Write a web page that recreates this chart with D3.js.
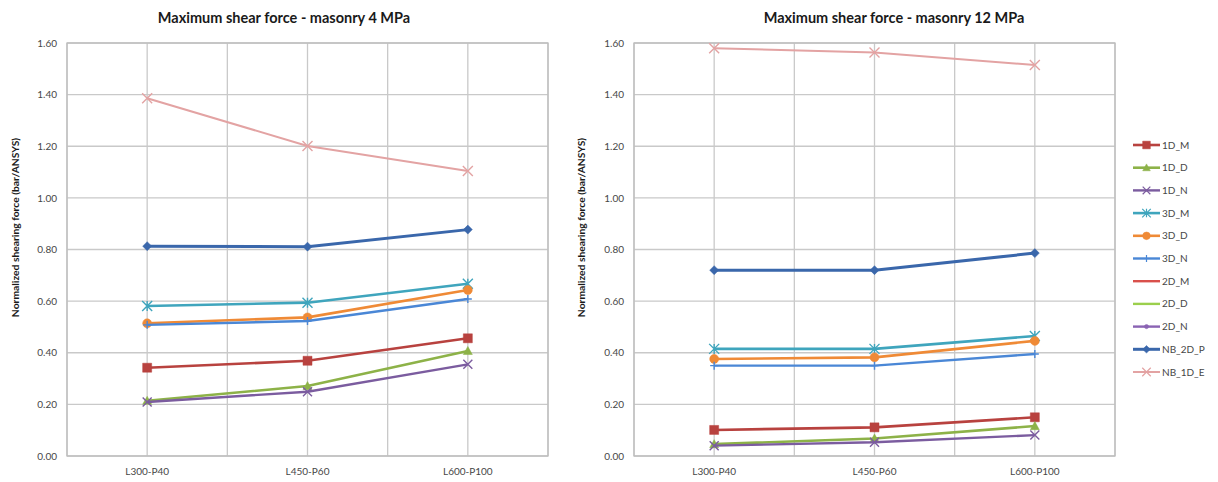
<!DOCTYPE html>
<html>
<head>
<meta charset="utf-8">
<script src="https://cdn.jsdelivr.net/npm/d3@7"></script>
<style>
  html, body { margin: 0; padding: 0; background: #fff; }
  svg { display: block; font-family: Lato, "Open Sans", sans-serif; }
</style>
</head>
<body>
<svg id="chart" width="1218" height="482"></svg>
<script>
// Categories and tick values
const categories = ["L300-P40", "L450-P60", "L600-P100"];
const yTicks = [0, 0.2, 0.4, 0.6, 0.8, 1.0, 1.2, 1.4, 1.6];
const seriesNames = ["1D_M", "1D_D", "1D_N", "3D_M", "3D_D", "3D_N", "2D_M", "2D_D", "2D_N", "NB_2D_P", "NB_1D_E"];
const titles = ["Maximum shear force - masonry 4 MPa", "Maximum shear force - masonry 12 MPa"];
const yTitle = "Normalized shearing force (bar/ANSYS)";

// Masonry 4 MPa
const m4_1D_M    = [0.342, 0.369, 0.456];
const m4_1D_D    = [0.214, 0.271, 0.407];
const m4_1D_N    = [0.209, 0.249, 0.355];
const m4_3D_M    = [0.581, 0.594, 0.667];
const m4_3D_D    = [0.514, 0.537, 0.643];
const m4_3D_N    = [0.508, 0.523, 0.608];
const m4_2D_M    = [null, null, null];
const m4_2D_D    = [null, null, null];
const m4_2D_N    = [null, null, null];
const m4_NB_2D_P = [0.813, 0.811, 0.877];
const m4_NB_1D_E = [1.386, 1.201, 1.104];

// Masonry 12 MPa
const m12_1D_M    = [0.101, 0.111, 0.150];
const m12_1D_D    = [0.046, 0.068, 0.116];
const m12_1D_N    = [0.040, 0.053, 0.081];
const m12_3D_M    = [0.415, 0.415, 0.465];
const m12_3D_D    = [0.376, 0.382, 0.446];
const m12_3D_N    = [0.350, 0.350, 0.395];
const m12_2D_M    = [null, null, null];
const m12_2D_D    = [null, null, null];
const m12_2D_N    = [null, null, null];
const m12_NB_2D_P = [0.720, 0.720, 0.786];
const m12_NB_1D_E = [1.580, 1.563, 1.515];

const panelData = [
  [m4_1D_M, m4_1D_D, m4_1D_N, m4_3D_M, m4_3D_D, m4_3D_N, m4_2D_M, m4_2D_D, m4_2D_N, m4_NB_2D_P, m4_NB_1D_E],
  [m12_1D_M, m12_1D_D, m12_1D_N, m12_3D_M, m12_3D_D, m12_3D_N, m12_2D_M, m12_2D_D, m12_2D_N, m12_NB_2D_P, m12_NB_1D_E]
];

// Series styling
const styles = {
  "1D_M":    { color: "#b8423f", width: 2.6, marker: "square",   size: 9 },
  "1D_D":    { color: "#8db248", width: 2.6, marker: "triangle", size: 9 },
  "1D_N":    { color: "#7b5c9f", width: 2.4, marker: "x",        size: 9 },
  "3D_M":    { color: "#3fa5bd", width: 2.6, marker: "asterisk", size: 10 },
  "3D_D":    { color: "#ef8a36", width: 2.6, marker: "circle",   size: 9 },
  "3D_N":    { color: "#4a87d6", width: 2.4, marker: "plus",     size: 8 },
  "2D_M":    { color: "#d9504b", width: 2.4, marker: "none",     size: 0 },
  "2D_D":    { color: "#9bcf4c", width: 2.4, marker: "none",     size: 0 },
  "2D_N":    { color: "#8a63b3", width: 2.4, marker: "dot",      size: 5 },
  "NB_2D_P": { color: "#3a67ab", width: 3.0, marker: "diamond",  size: 9 },
  "NB_1D_E": { color: "#e3a3a3", width: 2.0, marker: "x",        size: 10 }
};

function markerPath(type, s) {
  const h = s / 2;
  switch (type) {
    case "square":   return `M${-h},${-h}H${h}V${h}H${-h}Z`;
    case "triangle": return `M0,${-h}L${h},${h * 0.8}L${-h},${h * 0.8}Z`;
    case "diamond":  return `M0,${-h}L${h},0L0,${h}L${-h},0Z`;
    case "circle":   return d3.arc()({ innerRadius: 0, outerRadius: h, startAngle: 0, endAngle: 2 * Math.PI });
    case "dot":      return d3.arc()({ innerRadius: 0, outerRadius: h, startAngle: 0, endAngle: 2 * Math.PI });
    case "x":        return `M${-h},${-h}L${h},${h}M${-h},${h}L${h},${-h}`;
    case "plus":     return `M${-h},0H${h}M0,${-h}V${h}`;
    case "asterisk": return `M${-h},${-h}L${h},${h}M${-h},${h}L${h},${-h}M0,${-h}V${h}`;
    default:         return "";
  }
}
const strokeMarkers = new Set(["x", "plus", "asterisk"]);

const svg = d3.select("#chart");
const gridColor = "#c9c9c9";
const textColor = "#474747";

const panels = [
  { x0: 67,  x1: 548,  titleX: 284, yTitleX: 19 },
  { x0: 634, x1: 1115, titleX: 894, yTitleX: 585 }
];

const y = d3.scaleLinear().domain([0, 1.6]).range([456, 43]);

panels.forEach((p, pi) => {
  const g = svg.append("g");
  const x = d3.scaleBand().domain(categories).range([p.x0, p.x1]);
  const cx = c => x(c) + x.bandwidth() / 2;

  // horizontal grid lines
  g.append("g").selectAll("line").data(yTicks).join("line")
    .attr("x1", p.x0).attr("x2", p.x1)
    .attr("y1", d => y(d)).attr("y2", d => y(d))
    .attr("stroke", gridColor).attr("stroke-width", 1.3);

  // vertical grid lines: band edges and category centres
  const vx = [];
  categories.forEach(c => { vx.push(x(c)); vx.push(cx(c)); });
  vx.push(p.x1);
  g.append("g").selectAll("line").data(vx).join("line")
    .attr("x1", d => d).attr("x2", d => d)
    .attr("y1", y(0)).attr("y2", y(1.6))
    .attr("stroke", gridColor).attr("stroke-width", 1.3);

  // plot border
  g.append("rect")
    .attr("x", p.x0).attr("y", y(1.6))
    .attr("width", p.x1 - p.x0).attr("height", y(0) - y(1.6))
    .attr("fill", "none").attr("stroke", "#bdbdbd").attr("stroke-width", 1.3);

  // y axis
  const yAxis = d3.axisLeft(y).tickValues(yTicks).tickFormat(d3.format(".2f")).tickSize(0).tickPadding(10);
  const ya = g.append("g").attr("transform", `translate(${p.x0},0)`).call(yAxis);
  ya.select(".domain").remove();
  ya.selectAll("text").attr("fill", textColor).style("font-size", "10px")
    .style("font-family", "Lato, 'Open Sans', sans-serif");

  // x axis
  const xAxis = d3.axisBottom(x).tickSize(0).tickPadding(12);
  const xa = g.append("g").attr("transform", `translate(0,${y(0)})`).call(xAxis);
  xa.select(".domain").remove();
  xa.selectAll("text").attr("fill", textColor).style("font-size", "10px")
    .style("font-family", "Lato, 'Open Sans', sans-serif");

  // titles
  g.append("text").attr("x", p.titleX).attr("y", 23).attr("text-anchor", "middle")
    .style("font-size", "14.5px").style("font-weight", "bold").attr("fill", "#1a1a1a")
    .text(titles[pi]);
  g.append("text")
    .attr("transform", `translate(${p.yTitleX},${(y(0) + y(1.6)) / 2 - 22}) rotate(-90)`)
    .attr("text-anchor", "middle")
    .style("font-size", "10.3px").style("font-weight", "bold").attr("fill", "#1a1a1a")
    .text(yTitle);

  // series
  const line = d3.line().defined(d => d.v != null).x(d => cx(d.c)).y(d => y(d.v));
  seriesNames.forEach((name, si) => {
    const st = styles[name];
    const pts = categories.map((c, i) => ({ c, v: panelData[pi][si][i] }));
    const sg = g.append("g");
    sg.append("path").datum(pts).attr("d", line)
      .attr("fill", "none").attr("stroke", st.color).attr("stroke-width", st.width)
      .attr("stroke-linejoin", "round");
    sg.selectAll("path.mk").data(pts.filter(d => d.v != null)).join("path")
      .attr("class", "mk")
      .attr("transform", d => `translate(${cx(d.c)},${y(d.v)})`)
      .attr("d", markerPath(st.marker, st.size))
      .attr("fill", strokeMarkers.has(st.marker) ? "none" : st.color)
      .attr("stroke", st.color)
      .attr("stroke-width", strokeMarkers.has(st.marker) ? 1.4 : 0.5);
  });
});

// legend
const legend = svg.append("g");
const ly = d3.scalePoint().domain(seriesNames).range([145, 372]);
seriesNames.forEach(name => {
  const st = styles[name];
  const yy = ly(name);
  legend.append("line").attr("x1", 1133).attr("x2", 1160).attr("y1", yy).attr("y2", yy)
    .attr("stroke", st.color).attr("stroke-width", st.width);
  legend.append("path").attr("transform", `translate(1146.5,${yy})`)
    .attr("d", markerPath(st.marker, st.size * 0.85))
    .attr("fill", strokeMarkers.has(st.marker) ? "none" : st.color)
    .attr("stroke", st.color)
    .attr("stroke-width", strokeMarkers.has(st.marker) ? 1.2 : 0.5);
  legend.append("text").attr("x", 1162).attr("y", yy).attr("dy", "0.35em")
    .style("font-size", "10px").attr("fill", textColor).text(name);
});
</script>
</body>
</html>
